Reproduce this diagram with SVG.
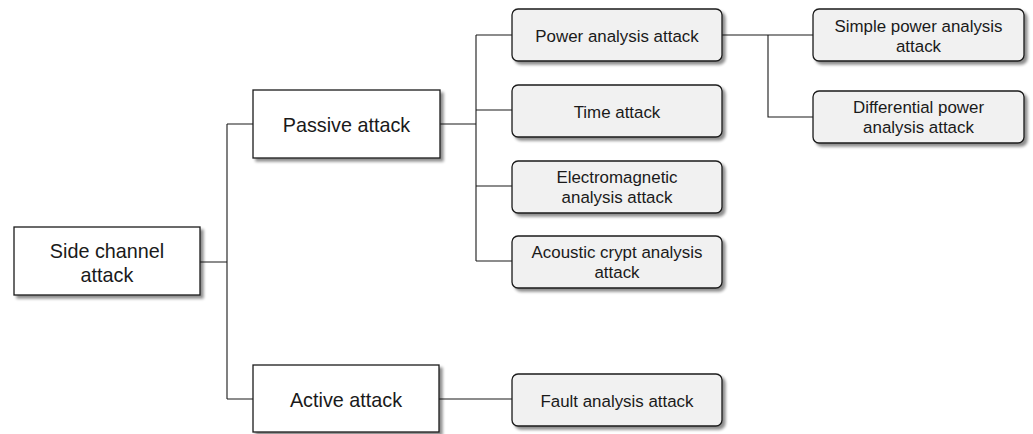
<svg xmlns="http://www.w3.org/2000/svg" width="1033" height="434" viewBox="0 0 1033 434">
  <defs>
    <filter id="shadow" x="-10%" y="-20%" width="125%" height="150%">
      <feGaussianBlur in="SourceAlpha" stdDeviation="1.6"/>
      <feOffset dx="3" dy="3" result="b"/>
      <feComponentTransfer><feFuncA type="linear" slope="0.45"/></feComponentTransfer>
      <feMerge><feMergeNode/><feMergeNode in="SourceGraphic"/></feMerge>
    </filter>
  </defs>
  <style>
    .main { fill: #ffffff; stroke: #1a1a1a; stroke-width: 1.3; filter: url(#shadow); }
    .sub { fill: #f1f1f1; stroke: #1a1a1a; stroke-width: 1.3; filter: url(#shadow); }
    .link { fill: none; stroke: #1a1a1a; stroke-width: 1.1; }
    text { font-family: "Liberation Sans", Arial, sans-serif; fill: #1a1a1a; text-anchor: middle; }
    .big { font-size: 19.8px; }
    .small { font-size: 16.9px; }
  </style>
  <rect width="1033" height="434" fill="#ffffff"/>

  <!-- connectors -->
  <g id="connectors">
    <path class="link" d="M200,262 H227 M227,124 V399 M227,124 H253 M227,399 H253"/>
    <path class="link" d="M440,124 H476 M476,35 V261 M476,35 H512 M476,110 H512 M476,186 H512 M476,261 H512"/>
    <path class="link" d="M722,35 H813 M768,35 V117 H813"/>
    <path class="link" d="M439,399 H512"/>
  </g>

  <g id="side-channel">
    <rect class="main" x="14" y="227" width="186" height="68"/>
    <text class="big" x="107" y="258">Side channel</text>
    <text class="big" x="107" y="281.5">attack</text>
  </g>

  <g id="passive">
    <rect class="main" x="253" y="90" width="187" height="68"/>
    <text class="big" x="346.5" y="132">Passive attack</text>
  </g>

  <g id="active">
    <rect class="main" x="253" y="365" width="186" height="67"/>
    <text class="big" x="346" y="407">Active attack</text>
  </g>

  <g id="power">
    <rect class="sub" x="512" y="9" width="210" height="52" rx="6"/>
    <text class="small" x="617" y="41.5">Power analysis attack</text>
  </g>

  <g id="time">
    <rect class="sub" x="512" y="85" width="210" height="52" rx="6"/>
    <text class="small" x="617" y="117.5">Time attack</text>
  </g>

  <g id="electromagnetic">
    <rect class="sub" x="512" y="161" width="210" height="52" rx="6"/>
    <text class="small" x="617" y="183">Electromagnetic</text>
    <text class="small" x="617" y="203">analysis attack</text>
  </g>

  <g id="acoustic">
    <rect class="sub" x="512" y="236" width="210" height="52" rx="6"/>
    <text class="small" x="617" y="258">Acoustic crypt analysis</text>
    <text class="small" x="617" y="278">attack</text>
  </g>

  <g id="fault">
    <rect class="sub" x="512" y="374" width="210" height="52" rx="6"/>
    <text class="small" x="617" y="406.5">Fault analysis attack</text>
  </g>

  <g id="simple-power">
    <rect class="sub" x="813" y="9" width="211" height="52" rx="6"/>
    <text class="small" x="918.5" y="31.5">Simple power analysis</text>
    <text class="small" x="918.5" y="51.5">attack</text>
  </g>

  <g id="differential-power">
    <rect class="sub" x="813" y="91" width="211" height="52" rx="6"/>
    <text class="small" x="918.5" y="113">Differential power</text>
    <text class="small" x="918.5" y="133">analysis attack</text>
  </g>
</svg>
